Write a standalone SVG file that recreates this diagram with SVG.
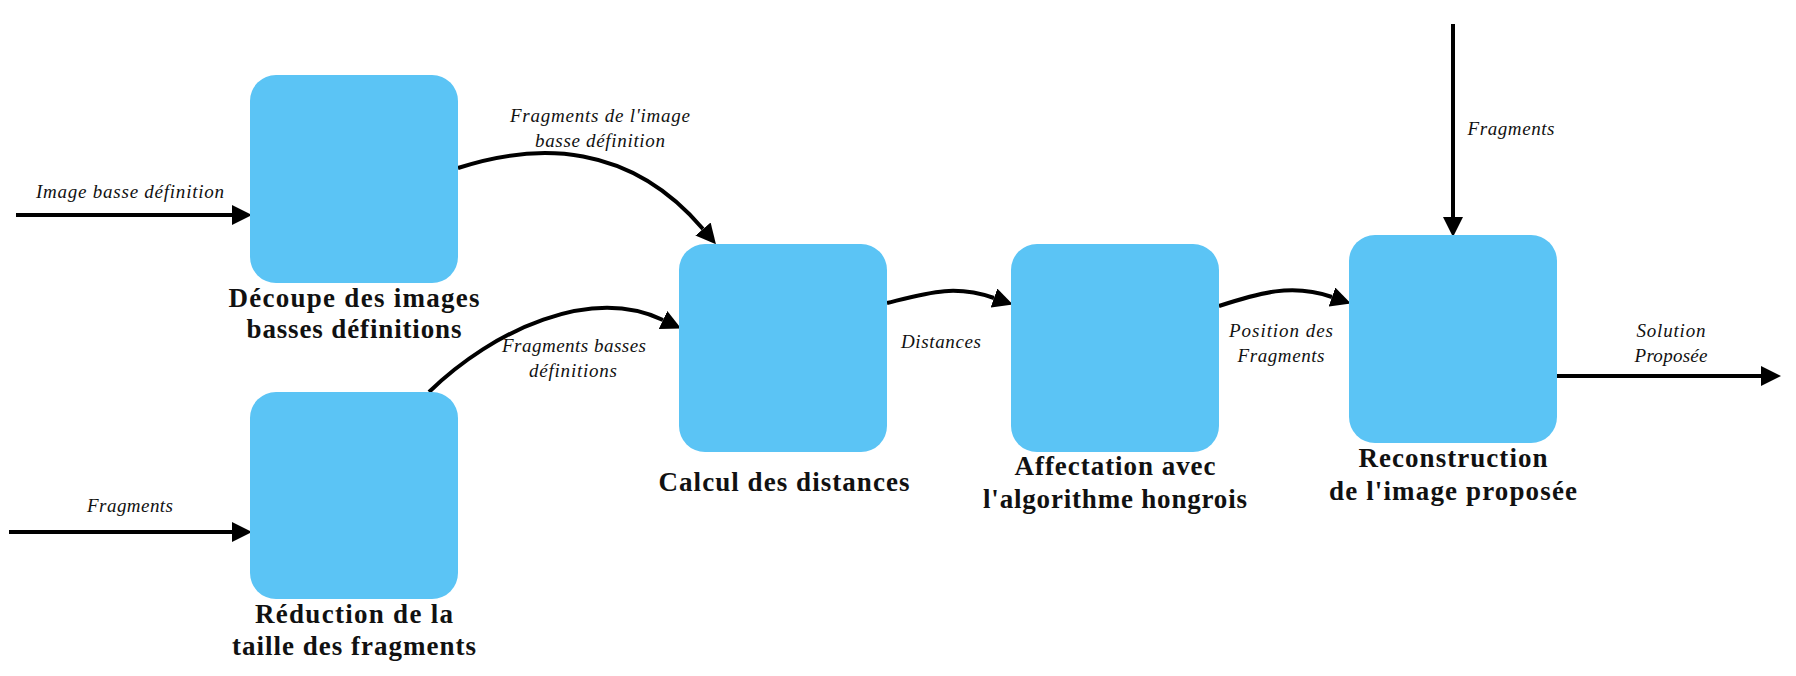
<svg xmlns="http://www.w3.org/2000/svg" width="1796" height="676" viewBox="0 0 1796 676">
<style>
.box{fill:#5bc4f5;stroke:none}
.title{font-family:"Liberation Serif","DejaVu Serif",serif;font-weight:bold;font-size:27px;fill:#111;text-anchor:middle}
.lbl{font-family:"Liberation Serif","DejaVu Serif",serif;font-style:italic;font-size:19px;fill:#111;text-anchor:middle}
.conn{fill:none;stroke:#000;stroke-width:4;marker-end:url(#arr)}
</style>
<defs>
<marker id="arr" markerUnits="userSpaceOnUse" markerWidth="20" markerHeight="20" refX="0" refY="9" orient="auto" viewBox="0 0 18 18">
<path d="M0,0 L18,9 L0,18 z" fill="#000"/>
</marker>
</defs>
<rect width="1796" height="676" fill="#fff"/>
<g id="connectors">
<path class="conn" d="M16,215 L232,215"/>
<path class="conn" d="M9,532 L232,532"/>
<path class="conn" d="M458,168 C538,142 630,143 703,229"/>
<path class="conn" d="M429,392 C494,329 591,286 663,320"/>
<path class="conn" d="M887,303 C927,293 954,284 994,298"/>
<path class="conn" d="M1219,306 C1259,293 1292,283 1332,297"/>
<path class="conn" d="M1453,24 L1453,217"/>
<path class="conn" d="M1557,376 L1761,376"/>
<text class="lbl" x="130" y="198" textLength="188">Image basse définition</text>
<text class="lbl" x="130" y="512" textLength="86">Fragments</text>
<text class="lbl" x="600" y="122" textLength="180">Fragments de l'image</text>
<text class="lbl" x="600" y="147" textLength="130">basse définition</text>
<text class="lbl" x="574" y="352" textLength="144">Fragments basses</text>
<text class="lbl" x="573" y="377" textLength="88">définitions</text>
<text class="lbl" x="941" y="348" textLength="80">Distances</text>
<text class="lbl" x="1281" y="337" textLength="104">Position des</text>
<text class="lbl" x="1281" y="362" textLength="87">Fragments</text>
<text class="lbl" x="1511" y="135" textLength="87">Fragments</text>
<text class="lbl" x="1671" y="337" textLength="69">Solution</text>
<text class="lbl" x="1671" y="362" textLength="73">Proposée</text>
</g>
<g id="decoupe">
<rect class="box" x="250" y="75" width="208" height="208" rx="26"/>
<text class="title" x="354" y="307" textLength="251">Découpe des images</text>
<text class="title" x="354" y="338" textLength="215">basses définitions</text>
</g>
<g id="reduction">
<rect class="box" x="250" y="392" width="208" height="207" rx="26"/>
<text class="title" x="354" y="623" textLength="198">Réduction de la</text>
<text class="title" x="354" y="655" textLength="244">taille des fragments</text>
</g>
<g id="calcul">
<rect class="box" x="679" y="244" width="208" height="208" rx="26"/>
<text class="title" x="784" y="491" textLength="251">Calcul des distances</text>
</g>
<g id="affectation">
<rect class="box" x="1011" y="244" width="208" height="208" rx="26"/>
<text class="title" x="1115" y="475" textLength="201">Affectation avec</text>
<text class="title" x="1115" y="508" textLength="264">l'algorithme hongrois</text>
</g>
<g id="reconstruction">
<rect class="box" x="1349" y="235" width="208" height="208" rx="26"/>
<text class="title" x="1453" y="467" textLength="189">Reconstruction</text>
<text class="title" x="1453" y="500" textLength="248">de l'image proposée</text>
</g>
</svg>
